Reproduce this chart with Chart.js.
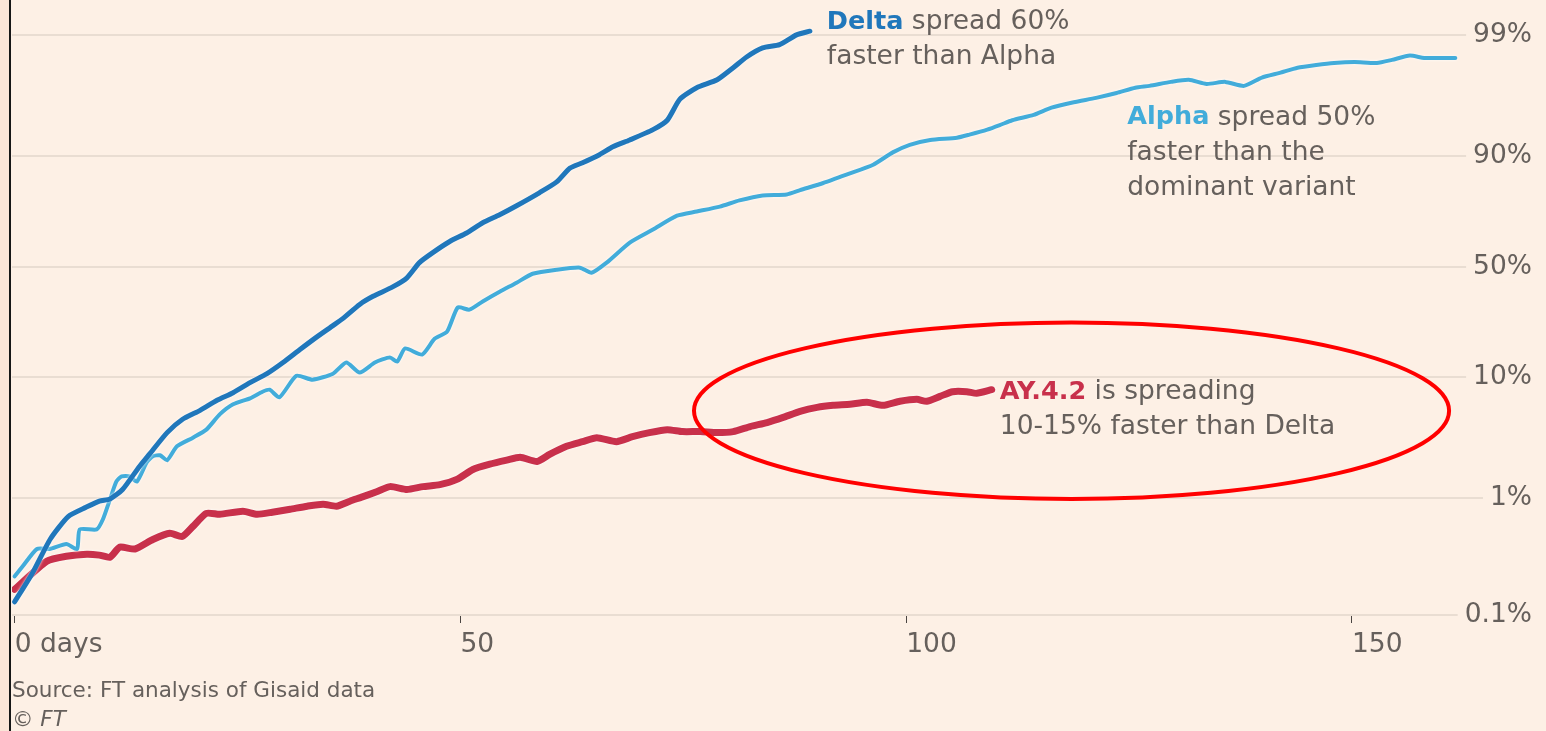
<!DOCTYPE html>
<html>
<head>
<meta charset="utf-8">
<script src="https://cdn.jsdelivr.net/npm/chart.js@4.4.1/dist/chart.umd.min.js"></script>
<style>
  html, body { margin: 0; padding: 0; }
  body { width: 1546px; height: 731px; background: #fbe5d8; overflow: hidden; font-family: "DejaVu Sans", sans-serif; }
  #frame { position: absolute; left: 9px; top: 0; width: 1535px; height: 731px; border-left: 2px solid #161616; background: #fdf0e5; }
  #wrap { position: absolute; left: 1px; top: 0; width: 1534px; height: 731px; }
  .source { position: absolute; left: 1px; top: 675px; font-size: 21.5px; line-height: 29px; color: #66605c; }
  .source i { font-style: italic; }
</style>
</head>
<body>
<div id="frame">
  <div id="wrap"><canvas id="chart" width="1534" height="731"></canvas></div>
  <div class="source">Source: FT analysis of Gisaid data<br>&copy; <i>FT</i></div>
</div>
<script>
// days since first detection, share of sequenced cases (%)
const deltaDays = [0, 2, 4, 6, 8, 9.5, 10.7, 12.1, 14, 15.1, 17.1, 18.8, 20.8, 22.7, 24.5, 26.4, 28.3, 30.1, 32, 33.9,
  35.7, 36.8, 38.7, 40.2, 42.4, 44, 45.4, 46.9, 48.8, 50.7, 52.5, 54.4, 56.3, 58.9, 60.8, 62.3, 63.7, 65.6, 67.1, 69,
  71.6, 73.2, 74.6, 76.5, 78.8, 80.6, 82.1, 83.9, 85.8, 87.7, 89.2];
const deltaPct = [0.13, 0.23, 0.45, 0.70, 0.84, 0.95, 0.99, 1.19, 1.87, 2.36, 3.59, 4.61, 5.47, 6.60, 7.59, 9.11, 10.7, 13.0, 16.2, 19.9,
  23.7, 26.3, 32.1, 35.7, 40.1, 44.5, 52.0, 56.9, 62.2, 66.1, 70.5, 73.7, 77.0, 81.3, 84.3, 87.6, 88.7, 90.2, 91.5, 92.5,
  93.8, 94.8, 96.5, 97.2, 97.6, 98.1, 98.46, 98.71, 98.79, 99.0, 99.07];

const alphaDays = [0, 0.9, 2.5, 3.9, 5.8, 7.0, 7.3, 9.2, 9.9, 10.7, 11.4, 12.0, 12.9, 13.7, 14.8, 15.5, 16.3, 17.1, 18.2, 20.0,
  21.5, 23.0, 24.5, 26.4, 27.8, 28.6, 29.7, 31.6, 33.4, 35.7, 37.2, 38.7, 40.4, 42.1, 42.9, 43.8, 45.7, 47.1, 48.5, 49.7,
  51.0, 52.5, 54.4, 56.3, 58.1, 60.8, 63.4, 64.7, 66.4, 69.0, 71.6, 74.3, 76.5, 79.1, 81.3, 83.9, 86.6, 88.1, 90.7, 93.3,
  96.3, 98.5, 100.4, 102.7, 105.7, 107.1, 109.1, 110.5, 111.9, 114.3, 116.3, 118.8, 121.3, 123.6, 125.7, 127.3, 129.7, 131.7, 133.7, 135.8,
  137.9, 139.9, 141.9, 143.9, 146.0, 148.0, 150.3, 152.8, 154.5, 156.5, 158.1, 159.7, 161.6];
const alphaPct = [0.215, 0.262, 0.369, 0.369, 0.407, 0.369, 0.543, 0.543, 0.663, 0.985, 1.39, 1.54, 1.54, 1.39, 2.02, 2.28, 2.32, 2.11, 2.76, 3.26,
  3.80, 5.07, 6.13, 6.85, 7.73, 8.02, 6.98, 10.3, 9.62, 10.7, 13.0, 10.9, 13.0, 14.2, 13.2, 16.5, 14.9, 19.3, 21.6, 30.8,
  29.9, 33.4, 37.8, 42.1, 46.5, 48.5, 49.5, 47.0, 52.0, 61.7, 67.6, 73.3, 74.9, 76.7, 78.8, 80.4, 80.7, 82.0, 84.0, 86.1,
  88.3, 90.6, 91.8, 92.5, 92.8, 93.2, 93.8, 94.3, 94.8, 95.3, 95.9, 96.3, 96.6, 96.9, 97.2, 97.3, 97.5, 97.6, 97.4, 97.5,
  97.3, 97.7, 97.9, 98.1, 98.2, 98.27, 98.3, 98.27, 98.37, 98.5, 98.43, 98.43, 98.43];

const ayDays = [0, 3.6, 5.8, 8.1, 9.5, 10.7, 11.8, 13.5, 15.5, 17.4, 18.8, 20.0, 21.5, 23.0, 25.6, 27.2, 28.9, 30.9, 32.8, 34.6,
  36.1, 37.6, 39.0, 40.6, 42.1, 44.0, 45.8, 47.7, 49.6, 51.4, 53.3, 55.2, 56.7, 58.6, 60.0, 61.9, 63.7, 65.3, 67.5, 69.3,
  71.2, 73.2, 74.9, 76.9, 78.8, 80.6, 82.5, 84.4, 86.2, 88.1, 90.0, 91.8, 93.7, 95.6, 97.4, 99.3, 101.2, 102.3, 103.8, 105.2,
  106.8, 107.9, 109.6];
const ayPct = [0.166, 0.290, 0.320, 0.333, 0.327, 0.314, 0.383, 0.369, 0.445, 0.503, 0.473, 0.577, 0.746, 0.732, 0.777, 0.732, 0.762, 0.808, 0.858, 0.893,
  0.858, 0.947, 1.03, 1.14, 1.26, 1.19, 1.26, 1.31, 1.45, 1.76, 1.95, 2.11, 2.23, 2.06, 2.36, 2.76, 3.02, 3.26, 3.02, 3.32,
  3.59, 3.80, 3.66, 3.66, 3.59, 3.66, 4.03, 4.35, 4.79, 5.37, 5.79, 6.01, 6.13, 6.36, 6.01, 6.48, 6.72, 6.48, 7.1, 7.73,
  7.73, 7.5, 8.02];

const xTicks = [0, 50, 100, 150];
const xTickLabels = ['0 days', '50', '100', '150'];
const yTickPct = [0.1, 1, 10, 50, 90, 99];
const yTickLabels = ['0.1%', '1%', '10%', '50%', '90%', '99%'];

// highlight ring round the AY.4.2 note (days, %)
const ringDays = [76.2, 160.9];
const ringPct = [0.99, 24.8];

const bg = '#fdf0e5';
const textGrey = '#66605c';
const deltaColor = '#2077bb';
const alphaColor = '#42acda';
const ayColor = '#c8304b';
const font = '"DejaVu Sans", sans-serif';
const fontSize = 26.5;

const notes = [
  { bold: 'Delta', color: deltaColor, lines: [' spread 60%', 'faster than Alpha'], day: 91.1, pct: 99.224 },
  { bold: 'Alpha', color: alphaColor, lines: [' spread 50%', 'faster than the', 'dominant variant'], day: 124.8, pct: 95.03 },
  { bold: 'AY.4.2', color: ayColor, lines: [' is spreading', '10-15% faster than Delta'], day: 110.5, pct: 7.62 }
];

const logit = p => Math.log(p / (1 - p));
const toPoints = (days, pct) => days.map((d, i) => ({ x: d, y: logit(pct[i] / 100) }));

const halo = {
  id: 'halo',
  beforeDatasetDraw(chart) {
    chart.ctx.save();
    chart.ctx.shadowColor = 'rgba(255,255,255,0.9)';
    chart.ctx.shadowBlur = 3;
  },
  afterDatasetDraw(chart) {
    chart.ctx.restore();
  }
};

const notesPlugin = {
  id: 'notes',
  afterDraw(chart) {
    const { ctx, scales } = chart;
    const x = scales.x, y = scales.y;
    ctx.save();
    // ring
    const x0 = x.getPixelForValue(ringDays[0]), x1 = x.getPixelForValue(ringDays[1]);
    const y0 = y.getPixelForValue(logit(ringPct[1] / 100)), y1 = y.getPixelForValue(logit(ringPct[0] / 100));
    ctx.beginPath();
    ctx.ellipse((x0 + x1) / 2, (y0 + y1) / 2, (x1 - x0) / 2, (y1 - y0) / 2, 0, 0, Math.PI * 2);
    ctx.strokeStyle = '#ff0000';
    ctx.lineWidth = 4;
    ctx.stroke();
    // labels
    ctx.textBaseline = 'middle';
    ctx.textAlign = 'left';
    notes.forEach(n => {
      const px = x.getPixelForValue(n.day);
      const py = y.getPixelForValue(logit(n.pct / 100));
      ctx.font = `bold ${fontSize - 1}px ${font}`;
      ctx.fillStyle = n.color;
      ctx.fillText(n.bold, px, py);
      const w = ctx.measureText(n.bold).width;
      ctx.font = `${fontSize}px ${font}`;
      ctx.fillStyle = textGrey;
      ctx.fillText(n.lines[0], px + w, py);
      for (let i = 1; i < n.lines.length; i++) {
        ctx.fillText(n.lines[i], px, py + i * 35);
      }
    });
    ctx.restore();
  }
};

const line = (label, days, pct, color, width) => ({
  label,
  data: toPoints(days, pct),
  borderColor: color,
  borderWidth: width,
  pointRadius: 0,
  tension: 0.2,
  borderJoinStyle: 'round',
  borderCapStyle: 'round',
  fill: false
});

new Chart(document.getElementById('chart'), {
  type: 'line',
  data: {
    datasets: [
      line('Delta', deltaDays, deltaPct, deltaColor, 5),
      line('Alpha', alphaDays, alphaPct, alphaColor, 4),
      line('AY.4.2', ayDays, ayPct, ayColor, 7)
    ]
  },
  options: {
    responsive: false,
    animation: false,
    devicePixelRatio: 1,
    layout: { padding: { top: 0, left: 0, right: 14, bottom: 70 } },
    plugins: { legend: { display: false }, tooltip: { enabled: false } },
    scales: {
      x: {
        type: 'linear',
        min: -0.3,
        max: 170.2,
        border: { display: false },
        grid: { drawOnChartArea: false, tickLength: 8, color: '#4a4542', lineWidth: 1 },
        ticks: {
          align: 'start', maxRotation: 0, autoSkip: false, padding: 6,
          color: textGrey, font: { family: font, size: fontSize },
          callback: (v, i) => xTickLabels[i]
        },
        afterBuildTicks: s => { s.ticks = xTicks.map(v => ({ value: v })); },
        afterFit: s => { s.height = 46; s.paddingLeft = 0; s.paddingRight = 0; }
      },
      y: {
        type: 'linear',
        position: 'right',
        min: logit(0.001),
        max: 5.287,
        border: { display: false },
        grid: { color: '#e9ddd2', lineWidth: 2, drawTicks: false },
        ticks: {
          mirror: true, padding: 0,
          color: textGrey, font: { family: font, size: fontSize },
          showLabelBackdrop: true, backdropColor: bg,
          backdropPadding: { left: 7, right: 0, top: 0, bottom: 0 },
          callback: (v, i) => yTickLabels[i]
        },
        afterBuildTicks: s => { s.ticks = yTickPct.map(p => ({ value: logit(p / 100) })); },
        afterFit: s => { s.paddingTop = 0; s.paddingBottom = 0; }
      }
    }
  },
  plugins: [halo, notesPlugin]
});
</script>
</body>
</html>
